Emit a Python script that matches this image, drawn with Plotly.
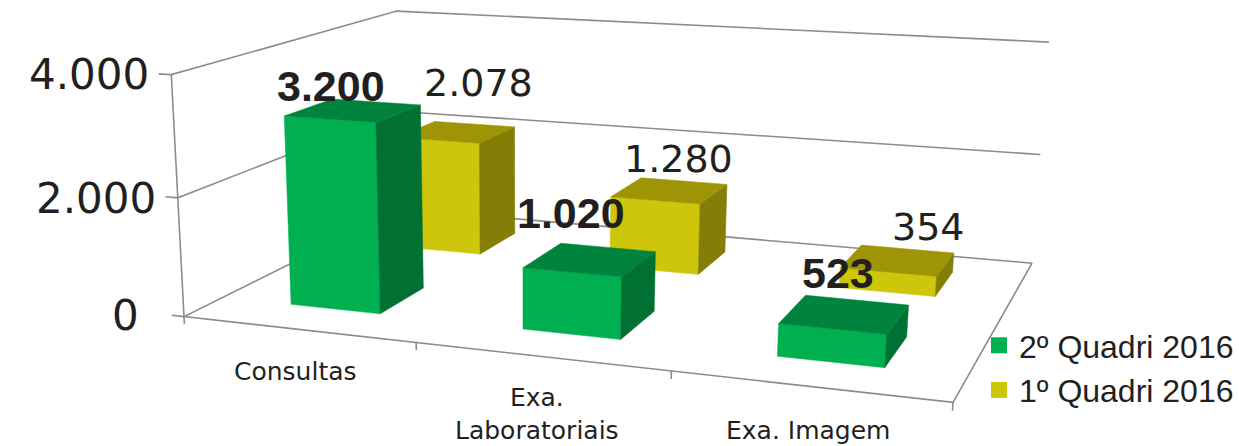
import numpy as np
import plotly.graph_objects as go

categories = ["Consultas", "Exa.<br>Laboratoriais", "Exa. Imagem"]
series_names = ["2º Quadri 2016", "1º Quadri 2016"]
q2_values = [3200, 1020, 523]
q1_values = [2078, 1280, 354]
value_ticks = [0, 2000, 4000]
value_max = 4000

# Perspective camera of the 3-D chart: (category pos, depth, value/1000, 1) -> page position
CAMERA = np.array([213.474, 310.507, -4.70105, 184.014,
                   10.4977, -58.6825, -61.1571, 316.606,
                   -0.0449756, 0.234598, -0.00890798, 1.0]).reshape(3, 4)
W, H = 1239, 446
BAR_OFFSET, BAR_WIDTH, BAR_DEPTH = 0.31, 0.395, 0.205
ROW_FRONT = [0.152, 0.659]
INK = "#231F20"
FRAME = "#8C8C8C"
COLORS = [dict(front="#00B050", side="#007033", top="#00843D"),
          dict(front="#CDC60B", side="#847D06", top="#9E9405")]


def project(x, y, z):
    q = CAMERA @ np.array([x, y, z / 1000.0, 1.0])
    return q[0] / q[2], q[1] / q[2]


def polyline(points):
    xy = [project(*p) for p in points]
    return [a for a, _ in xy], [b for _, b in xy]


fig = go.Figure()

# frame: walls, floor, tick marks
frame_paths = []
for t in value_ticks:
    frame_paths.append([(-0.055, 0, t), (0, 0, t), (0, 1, t), (3, 1, t)])
frame_paths.append([(0, 0, value_max), (0, 0, 0), (3, 0, 0), (3, 1, 0)])
for c in range(4):
    frame_paths.append([(c, 0, 0), (c, 0, -125)])
fx, fy = [], []
for path in frame_paths:
    a, b = polyline(path)
    fx += a + [None]
    fy += b + [None]
fig.add_trace(go.Scatter(x=fx, y=fy, mode="lines", line=dict(color=FRAME, width=1.6),
                         hoverinfo="skip", showlegend=False))


def add_face(points, color):
    a, b = polyline(points + points[:1])
    fig.add_trace(go.Scatter(x=a, y=b, mode="lines", fill="toself", fillcolor=color,
                             line=dict(color=color, width=0.5), hoverinfo="skip", showlegend=False))


def add_bar(c, row, value):
    x0, x1 = c + BAR_OFFSET, c + BAR_OFFSET + BAR_WIDTH
    y0, y1 = ROW_FRONT[row], ROW_FRONT[row] + BAR_DEPTH
    col = COLORS[row]
    add_face([(x0, y0, 0), (x1, y0, 0), (x1, y0, value), (x0, y0, value)], col["front"])
    add_face([(x1, y0, 0), (x1, y1, 0), (x1, y1, value), (x1, y0, value)], col["side"])
    add_face([(x0, y0, value), (x1, y0, value), (x1, y1, value), (x0, y1, value)], col["top"])


# paint the back row first so the front row covers it
for row, values in [(1, q1_values), (0, q2_values)]:
    for c, v in enumerate(values):
        add_bar(c, row, v)

# legend swatches
for i, name in enumerate(series_names):
    fig.add_trace(go.Scatter(x=[None], y=[None], mode="markers", name=name, legendgroup=name,
                             marker=dict(symbol="square", size=16, color=COLORS[i]["front"])))


def thousands(v):
    return f"{v:,}".replace(",", ".")


annotations = []


def label(x, y, text, size, family="DejaVu Sans", bold=False, anchor="center"):
    annotations.append(dict(x=x, y=y, xref="x", yref="y", text=text, showarrow=False, xanchor=anchor,
                            yanchor="middle",
                            font=dict(family=family, size=size, color=INK, weight="bold" if bold else "normal")))


for t, (px, py) in zip(value_ticks, [(141, 315), (158, 198), (151, 74)]):
    label(px, py, thousands(t), 42, anchor="right")
for name, (px, py) in zip(categories, [(295, 371), (537, 414), (808, 430)]):
    label(px, py, name, 25)
for v, (px, py) in zip(q1_values, [(478, 83), (678, 159), (928, 227)]):
    label(px, py, thousands(v), 38)
for v, (px, py) in zip(q2_values, [(331, 86), (571, 213), (838, 273)]):
    label(px, py, thousands(v), 43, family="Liberation Sans", bold=True)

fig.update_layout(
    width=W, height=H, margin=dict(l=0, r=0, t=0, b=0, autoexpand=False),
    paper_bgcolor="white", plot_bgcolor="white",
    xaxis=dict(range=[0, W], visible=False, fixedrange=True),
    yaxis=dict(range=[H, 0], visible=False, fixedrange=True),
    annotations=annotations,
    legend=dict(x=979 / W, y=1 - 318 / H, xanchor="left", yanchor="top", tracegroupgap=0,
                bgcolor="rgba(0,0,0,0)", font=dict(family="Liberation Sans", size=32, color=INK)),
)
fig.write_html("out.html", config=dict(displayModeBar=False),
               post_script="document.body.style.margin='0';document.body.style.overflow='hidden';")
